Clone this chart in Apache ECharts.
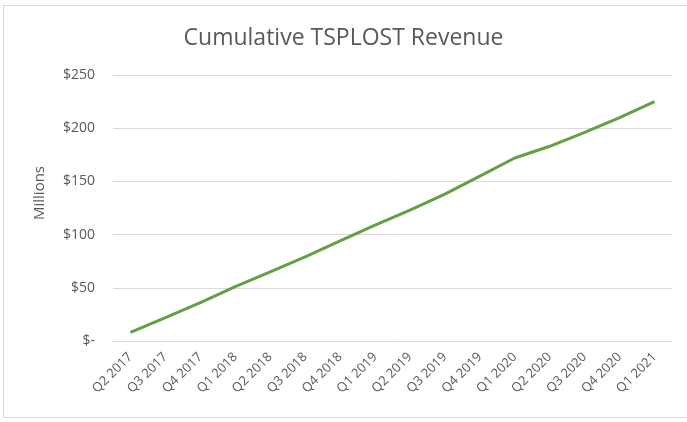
<!DOCTYPE html>
<html>
<head>
<meta charset="utf-8">
<script src="https://cdn.jsdelivr.net/npm/echarts@6/dist/echarts.min.js"></script>
<style>
  html, body { margin: 0; padding: 0; background: #fff; }
  .frame {
    position: absolute; left: 3px; top: 5px;
    width: 690px; height: 413px;
    border: 1px solid #d9d9d9; box-sizing: border-box;
  }
  #chart { position: absolute; left: 0; top: 0; width: 687px; height: 422px; }
</style>
</head>
<body>
<div class="frame"></div>
<div id="chart"></div>
<script>
// quarters on the x axis
const quarters = [
  'Q2 2017', 'Q3 2017', 'Q4 2017', 'Q1 2018', 'Q2 2018', 'Q3 2018',
  'Q4 2018', 'Q1 2019', 'Q2 2019', 'Q3 2019', 'Q4 2019', 'Q1 2020',
  'Q2 2020', 'Q3 2020', 'Q4 2020', 'Q1 2021'
];
// cumulative revenue, millions of dollars
const revenue = [8, 22, 36, 51, 65, 79, 94, 109, 123, 138, 155, 172, 183, 196, 210, 225];
const yTicks = [0, 50, 100, 150, 200, 250];

const font = "'Open Sans', 'Liberation Sans', sans-serif";
const gray = '#595959';

const chart = echarts.init(document.getElementById('chart'));

chart.setOption({
  animation: false,
  title: {
    text: 'Cumulative TSPLOST Revenue',
    left: 'center',
    top: 22,
    textStyle: { fontFamily: font, fontSize: 23, fontWeight: 'normal', color: gray }
  },
  // y axis title, placed by hand as in the original
  graphic: [{
    type: 'text',
    x: 40, y: 193,
    rotation: Math.PI / 2,
    style: {
      text: 'Millions',
      font: "15px 'Open Sans', sans-serif",
      fill: gray,
      align: 'center',
      verticalAlign: 'middle'
    }
  }],
  grid: { left: 113, right: 15, top: 75, bottom: 81 },
  xAxis: {
    type: 'category',
    data: quarters,
    axisLine: { lineStyle: { color: '#d9d9d9' } },
    axisTick: { show: false },
    axisLabel: {
      rotate: 45, interval: 0, margin: 14,
      fontFamily: font, fontSize: 13, color: gray
    }
  },
  yAxis: {
    type: 'value',
    min: 0, max: 250, interval: 50,
    axisLine: { show: false },
    axisTick: { show: false },
    splitLine: { lineStyle: { color: '#d9d9d9' } },
    axisLabel: {
      margin: 18,
      fontFamily: font, fontSize: 14, color: gray,
      formatter: v => yTicks.includes(v) ? (v === 0 ? '$-' : '$' + v) : ''
    }
  },
  series: [{
    name: 'Revenue',
    type: 'line',
    data: revenue,
    symbol: 'none',
    lineStyle: { color: '#64a043', width: 3 }
  }]
});
</script>
</body>
</html>
